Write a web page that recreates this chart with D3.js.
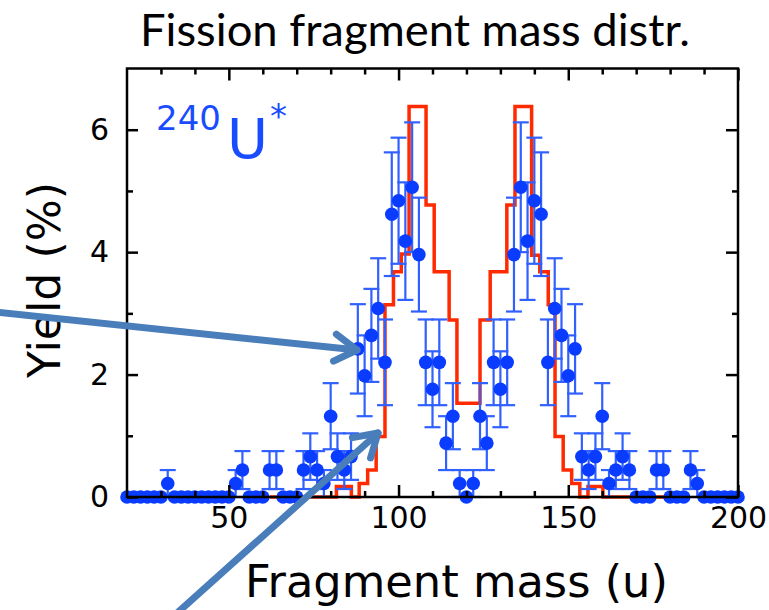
<!DOCTYPE html>
<html>
<head>
<meta charset="utf-8">
<script src="https://cdn.jsdelivr.net/npm/d3@7"></script>
<style>
  html, body { margin: 0; padding: 0; background: #fff; }
  svg { display: block; }
</style>
</head>
<body>
<svg id="chart" width="769" height="610"></svg>
<script>
// ---- data ----
const masses = [20,22,24,26,28,30,32,34,36,38,40,42,44,46,48,50,52,54,56,58,60,62,64,66,68,70,72,74,76,78,80,82,84,86,88,90,92,94,96,98,100,102,104,106,108,110,112,114,116,118,120,122,124,126,128,130,132,134,136,138,140,142,144,146,148,150,152,154,156,158,160,162,164,166,168,170,172,174,176,178,180,182,184,186,188,190,192,194,196,198,200];
const yields = [0,0,0,0,0,0,0.22,0,0,0,0,0,0,0,0,0,0.22,0.44,0,0,0,0.44,0.44,0,0,0,0.44,0.66,0.44,0.22,1.32,0.66,0.44,0.66,2.42,1.98,2.64,3.08,2.20,4.62,4.84,4.18,5.06,3.96,2.20,1.76,2.20,0.88,1.32,0.22,0,0.22,1.32,0.88,2.20,1.76,2.20,3.96,5.06,4.18,4.84,4.62,2.20,3.08,2.64,1.98,2.42,0.66,0.44,0.66,1.32,0.22,0.44,0.66,0.44,0,0,0,0.44,0.44,0,0,0,0.44,0.22,0,0,0,0,0,0];
const errors = [0,0,0,0,0,0,0.22,0,0,0,0,0,0,0,0,0,0.22,0.31,0,0,0,0.31,0.31,0,0,0,0.31,0.38,0.31,0.22,0.54,0.38,0.31,0.38,0.73,0.66,0.76,0.82,0.70,1.01,1.03,0.96,1.06,0.93,0.70,0.62,0.70,0.44,0.54,0.22,0,0.22,0.54,0.44,0.70,0.62,0.70,0.93,1.06,0.96,1.03,1.01,0.70,0.82,0.76,0.66,0.73,0.38,0.31,0.38,0.54,0.22,0.31,0.38,0.31,0,0,0,0.31,0.31,0,0,0,0.31,0.22,0,0,0,0,0,0];

// model histogram (red): bin edges in mass units, heights between edges
const histEdges = [62,81.7,86.1,88.4,90.9,93.4,96.0,98.5,100.8,103.1,108.1,110.5,114.9,117.2,124.0,127.0,131.9,134.3,139.2,141.6,144.1,146.1,148.5,151.0,153.4,155.8,160.2,180];
const histHeights = [0,0.17,0,0.22,0.44,0.99,3.14,3.68,3.97,6.38,4.77,3.68,2.89,1.53,2.89,3.68,4.77,6.38,3.95,3.68,3.14,0.99,0.44,0.22,0,0.17,0];

const xMajor = [50,100,150,200];
const xMinor = [30,40,60,70,80,90,110,120,130,140,160,170,180,190];
const yMajor = [0,2,4,6];
const yMinor = [1,3,5];

const titleText = "Fission fragment mass distr.";
const xLabel = "Fragment mass (u)";
const yLabel = "Yield (%)";

// ---- layout ----
const svg = d3.select("#chart");
const L = 127, R = 738, T = 68.5, B = 497;
const x = d3.scaleLinear().domain([20, 200]).range([L, R]);
const y = d3.scaleLinear().domain([0, 7]).range([B, T]);

// histogram path
const histPts = [];
histHeights.forEach((h, i) => {
  histPts.push([histEdges[i], h]);
  histPts.push([histEdges[i + 1], h]);
});
const line = d3.line().x(d => x(d[0])).y(d => y(d[1]));
svg.append("path")
  .attr("d", line(histPts))
  .attr("fill", "none")
  .attr("stroke", "#ff2a00")
  .attr("stroke-width", 3.5)
  .attr("stroke-linejoin", "miter");

// data
const data = masses.map((m, i) => ({ m, v: yields[i], e: errors[i] }));
const eb = svg.append("g").attr("stroke", "#3060ff").attr("stroke-width", 2.2).attr("fill", "none");
data.filter(d => d.e > 0).forEach(d => {
  const cx = x(d.m), y1 = y(d.v + d.e), y0 = y(Math.max(0, d.v - d.e));
  eb.append("line").attr("x1", cx).attr("x2", cx).attr("y1", y1).attr("y2", y0);
  eb.append("line").attr("x1", cx - 8).attr("x2", cx + 8).attr("y1", y1).attr("y2", y1);
  eb.append("line").attr("x1", cx - 8).attr("x2", cx + 8).attr("y1", y0).attr("y2", y0);
});
svg.append("g").selectAll("circle").data(data).join("circle")
  .attr("cx", d => x(d.m)).attr("cy", d => y(d.v)).attr("r", 6.8)
  .attr("fill", "#0a3cff");

// axes
const tickFont = "DejaVu Sans, Verdana, sans-serif";
function styleAxis(g) {
  g.select(".domain").remove();
  g.selectAll("line").attr("stroke", "#000").attr("stroke-width", 2.5);
  g.selectAll("text").attr("fill", "#000").style("font-family", tickFont).style("font-size", "30px");
}
svg.append("g").attr("transform", `translate(0,${B})`)
  .call(d3.axisBottom(x).tickValues(xMajor).tickSize(-12).tickPadding(10).tickFormat(d3.format("d")))
  .call(styleAxis);
svg.append("g").attr("transform", `translate(0,${B})`)
  .call(d3.axisBottom(x).tickValues(xMinor).tickSize(-6).tickFormat(""))
  .call(styleAxis);
svg.append("g").attr("transform", `translate(0,${T})`)
  .call(d3.axisTop(x).tickValues(xMajor).tickSize(-12).tickFormat(""))
  .call(styleAxis);
svg.append("g").attr("transform", `translate(0,${T})`)
  .call(d3.axisTop(x).tickValues(xMinor).tickSize(-6).tickFormat(""))
  .call(styleAxis);
svg.append("g").attr("transform", `translate(${L},0)`)
  .call(d3.axisLeft(y).tickValues(yMajor).tickSize(-11).tickPadding(18).tickFormat(d3.format("d")))
  .call(styleAxis);
svg.append("g").attr("transform", `translate(${L},0)`)
  .call(d3.axisLeft(y).tickValues(yMinor).tickSize(-6).tickFormat(""))
  .call(styleAxis);
svg.append("g").attr("transform", `translate(${R},0)`)
  .call(d3.axisRight(y).tickValues(yMajor).tickSize(-12).tickFormat(""))
  .call(styleAxis);
svg.append("g").attr("transform", `translate(${R},0)`)
  .call(d3.axisRight(y).tickValues(yMinor).tickSize(-6).tickFormat(""))
  .call(styleAxis);
svg.append("rect").attr("x", L).attr("y", T).attr("width", R - L).attr("height", B - T)
  .attr("fill", "none").attr("stroke", "#000").attr("stroke-width", 2.5);

// fitting helper
function fit(t, target) {
  let fs = parseFloat(t.style("font-size"));
  const w = t.node().getComputedTextLength();
  if (w > 0) t.style("font-size", (fs * target / w) + "px");
  return t;
}

// labels
const title = svg.append("text").attr("x", 415).attr("y", 46).attr("text-anchor", "middle")
  .style("font-family", "Lato, 'Open Sans', sans-serif").style("font-size", "40px").attr("fill", "#000")
  .text(titleText);
fit(title, 550);

const xl = svg.append("text").attr("x", 456.5).attr("y", 597).attr("text-anchor", "middle")
  .style("font-family", tickFont).style("font-size", "40px").attr("fill", "#000").text(xLabel);
fit(xl, 423);

const yl = svg.append("text").attr("transform", "translate(60,280) rotate(-90)").attr("text-anchor", "middle")
  .style("font-family", tickFont).style("font-size", "40px").attr("fill", "#000").text(yLabel);
fit(yl, 196);

// 240U* label
const lab = svg.append("g").attr("fill", "#1a4cff").style("font-family", tickFont);
lab.append("text").attr("x", 156).attr("y", 130).style("font-size", "34px").text("240");
lab.append("text").attr("x", 227).attr("y", 158).style("font-size", "56px").text("U");
lab.append("text").attr("x", 270).attr("y", 128).style("font-size", "34px").text("*");

// arrows
const arrowColor = "#4a7ebb";
const ag = svg.append("g").attr("stroke", arrowColor).attr("stroke-width", 7)
  .attr("fill", "none").attr("stroke-linecap", "round").attr("stroke-linejoin", "round");
function arrow(x0, y0, x1, y1) {
  ag.append("line").attr("x1", x0).attr("y1", y0).attr("x2", x1).attr("y2", y1);
  const ang = Math.atan2(y1 - y0, x1 - x0);
  const len = 26, spread = 0.55;
  const p1 = [x1 - len * Math.cos(ang - spread), y1 - len * Math.sin(ang - spread)];
  const p2 = [x1 - len * Math.cos(ang + spread), y1 - len * Math.sin(ang + spread)];
  ag.append("path").attr("d", `M${p1[0]},${p1[1]} L${x1},${y1} L${p2[0]},${p2[1]}`);
}
arrow(-5, 312, 357, 350);
arrow(176, 614, 378, 433);
</script>
</body>
</html>
